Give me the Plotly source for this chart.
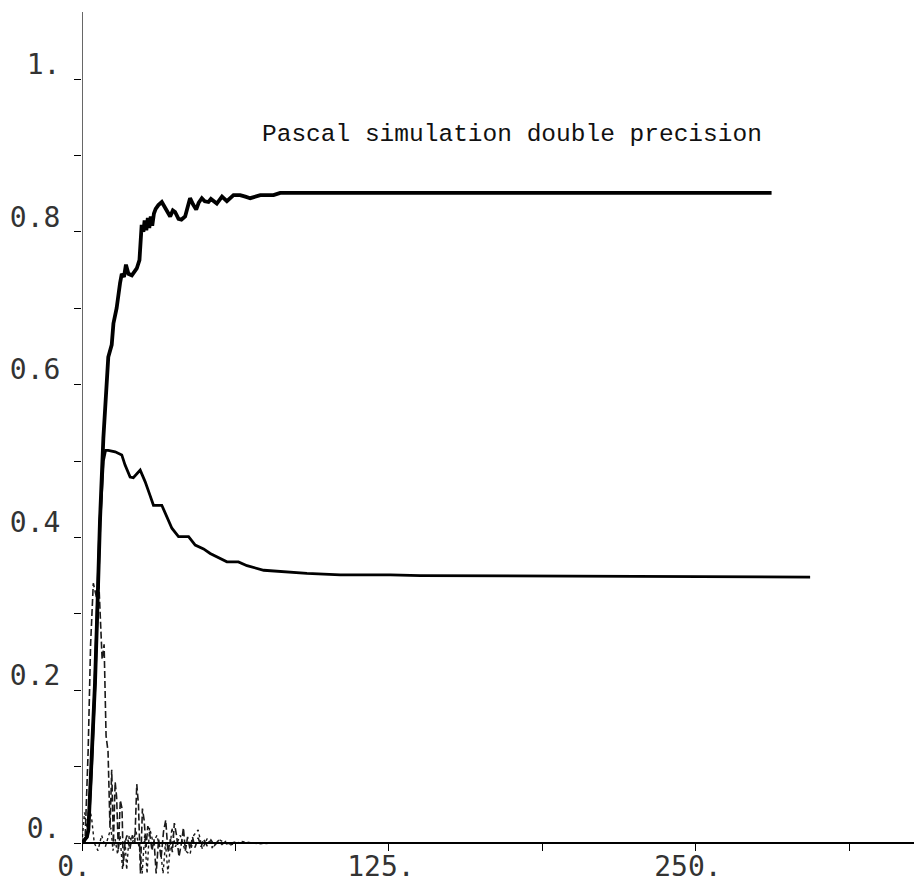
import plotly.graph_objects as go

# ---------------- data ----------------
# Upper (thick) curve
upper_x = [0, 2.0, 2.6, 3.9, 5.3, 6.2, 7.3, 8.7, 9.4, 10.2, 10.7, 12.1, 12.8, 14.1, 14.8,
           15.5, 16.2, 17.1, 17.9, 18.9, 20.3, 22.3, 23.4, 23.9, 24.3, 25.0, 25.5, 26.2,
           26.8, 27.4, 28.0, 28.6, 29.3, 30.0, 31.1, 32.5, 33.5, 34.5, 35.9, 37.0, 37.9,
           39.3, 40.5, 42.0, 43.2, 44.0, 45.2, 46.5, 47.5, 48.8, 50.0, 51.5, 52.5, 53.5,
           54.9, 57.0, 59.0, 61.7, 64.4, 66.5, 68.5, 72.6, 78.0, 80.7, 100, 150, 200, 250, 280.8]
upper_y = [0.0, 0.008, 0.017, 0.10, 0.21, 0.30, 0.42, 0.53, 0.565, 0.61, 0.636, 0.652, 0.68,
           0.70, 0.72, 0.733, 0.745, 0.741, 0.757, 0.745, 0.743, 0.752, 0.763, 0.794, 0.809,
           0.800, 0.815, 0.802, 0.818, 0.805, 0.820, 0.808, 0.824, 0.830, 0.835, 0.839, 0.833,
           0.829, 0.820, 0.828, 0.826, 0.817, 0.816, 0.820, 0.835, 0.844, 0.836, 0.829, 0.838,
           0.844, 0.840, 0.839, 0.843, 0.841, 0.837, 0.846, 0.840, 0.848, 0.848, 0.846, 0.844,
           0.848, 0.848, 0.851, 0.851, 0.851, 0.851, 0.851, 0.851]

# Second curve (peaks near 0.51, settles at 0.35)
second_x = [0, 2.0, 2.6, 3.9, 5.3, 6.2, 7.3, 8.7, 9.6, 10.7, 13.5, 16.2, 17.5, 19.6, 20.9,
            23.7, 25.7, 27.7, 29.1, 32.5, 34.5, 36.6, 39.3, 43.4, 46.1, 49.5, 52.2, 55.6,
            59.0, 63.7, 67.2, 74.0, 82.1, 91.6, 105.2, 125.6, 137.8, 200, 296.5]
second_y = [0.0, 0.008, 0.017, 0.10, 0.21, 0.30, 0.42, 0.50, 0.514, 0.514, 0.512, 0.508,
            0.495, 0.479, 0.478, 0.488, 0.473, 0.455, 0.442, 0.442, 0.427, 0.412, 0.401,
            0.401, 0.390, 0.385, 0.379, 0.373, 0.368, 0.368, 0.363, 0.357, 0.355, 0.353,
            0.351, 0.351, 0.350, 0.349, 0.348]

# Dashed oscillating curve (starts near 0.34, decays to 0)
dashed_x = [0, 1.2, 2.5, 3.5, 4.6, 5.3, 6.0, 6.8, 7.6, 8.2, 9.0, 9.8, 10.6, 11.4, 12.1,
            12.8, 13.5, 14.1, 14.8, 15.6, 16.3, 16.8, 17.5, 18.3, 19.5, 20.5, 21.5, 22.3,
            23.0, 23.8, 24.6, 25.3, 26.1, 26.8, 27.6, 28.5, 29.3, 30.2, 31.2, 32.2, 33.2,
            34.1, 35.0, 36.0, 36.8, 37.6, 38.5, 39.5, 40.5, 41.3, 42.1, 43.0, 44.0, 45.0,
            46.0, 47.3, 48.5, 49.5, 51.0, 52.5, 54.0, 55.5, 57.0, 58.5, 60.0, 62.0, 64.0,
            66.0, 68.0, 71.0, 74.0, 78.0, 82.0, 88.0, 95.0, 110.0, 140.0, 200.0, 260.0, 338.0]
dashed_y = [0.0, 0.0, 0.12, 0.26, 0.34, 0.33, 0.32, 0.345, 0.29, 0.24, 0.26, 0.14, 0.12,
            0.02, 0.096, 0.0, 0.08, 0.06, -0.01, 0.056, 0.045, -0.03, 0.0, 0.01, -0.008,
            0.01, 0.0, 0.077, 0.05, -0.04, 0.045, 0.03, -0.005, 0.022, 0.012, -0.01, 0.005,
            -0.04, 0.005, -0.02, 0.015, 0.03, -0.012, 0.005, -0.012, 0.026, 0.01, -0.018,
            0.0, 0.02, -0.01, 0.008, -0.008, 0.008, -0.006, 0.007, -0.005, 0.005, -0.004,
            0.004, -0.003, 0.003, -0.002, 0.002, -0.001, 0.001, 0.0, 0.0, 0.0, 0.0, 0.0,
            0.0, 0.0, 0.0, 0.0, 0.0, 0.0, 0.0, 0.0, 0.0]

# Dotted oscillating curve (small, mostly around zero)
dotted_x = [0, 1, 2, 3, 4, 5, 6.5, 8, 9.5, 11, 11.8, 12.6, 13.5, 14.5, 15.5, 16.5, 17.5,
            18.2, 19.2, 20.5, 22, 23.5, 24.5, 25.5, 26.5, 27.5, 29, 30.5, 32, 33, 34, 35,
            36.6, 38, 40, 42, 44, 45.5, 47.3, 49, 51, 53, 56, 60, 65, 72, 80, 95, 120, 338]
dotted_y = [0.0, 0.04, 0.02, 0.05, 0.03, 0.0, -0.01, 0.01, -0.005, 0.01, 0.02, -0.01,
            0.005, -0.015, 0.01, -0.035, 0.005, -0.035, 0.01, 0.0, 0.015, -0.01, -0.04,
            0.01, -0.04, 0.02, 0.0, 0.01, -0.01, -0.04, 0.0, -0.04, 0.02, -0.005, 0.01,
            -0.01, -0.015, 0.01, 0.017, -0.008, 0.006, -0.006, 0.004, -0.003, 0.002,
            -0.001, 0.0, 0.0, 0.0, 0.0]

# Axis ticks
x_tickvals = [0, 62.5, 125, 187.5, 250, 312.5]
x_ticktext = ["0.", "", "125.", "", "250.", ""]
y_tickvals = [0, 0.1, 0.2, 0.3, 0.4, 0.5, 0.6, 0.7, 0.8, 0.9, 1.0]
y_ticktext = ["0.", "", "0.2", "", "0.4", "", "0.6", "", "0.8", "", "1."]

annotation_text = "Pascal simulation double precision"

X_RANGE = [0, 338.8]
Y_RANGE = [-0.0589, 1.0877]

# ---------------- figure ----------------
fig = go.Figure()
fig.add_trace(go.Scatter(x=dotted_x, y=dotted_y, mode="lines",
                         line=dict(color="#1a1a1a", width=1.4, dash="dot")))
fig.add_trace(go.Scatter(x=dashed_x, y=dashed_y, mode="lines",
                         line=dict(color="#1a1a1a", width=1.6, dash="7px,3px")))
fig.add_trace(go.Scatter(x=second_x, y=second_y, mode="lines",
                         line=dict(color="black", width=2.8)))
fig.add_trace(go.Scatter(x=upper_x, y=upper_y, mode="lines",
                         line=dict(color="black", width=3.8)))

tickfont = dict(family="DejaVu Sans Mono", size=28, color="#333")

fig.update_layout(
    width=914, height=888,
    margin=dict(l=82, r=0, t=12, b=0, autoexpand=False),
    plot_bgcolor="white", paper_bgcolor="white",
    showlegend=False,
    xaxis=dict(range=X_RANGE, showgrid=False, zeroline=False, automargin=False,
               showline=True, linecolor="black", linewidth=1.5,
               anchor="free", position=(0 - Y_RANGE[0]) / (Y_RANGE[1] - Y_RANGE[0]),
               tickmode="array", tickvals=x_tickvals, ticktext=x_ticktext,
               ticks="outside", ticklen=7, tickwidth=1.2, tickcolor="black",
               tickfont=tickfont, ticklabelshift=-8, ticklabelstandoff=-8),
    yaxis=dict(range=Y_RANGE, showgrid=False, zeroline=False, showline=False,
               automargin=False,
               tickmode="array", tickvals=y_tickvals, ticktext=y_ticktext,
               ticks="outside", ticklen=7, tickwidth=1.2, tickcolor="black",
               tickfont=tickfont, ticklabelshift=-15, ticklabelstandoff=8),
    shapes=[dict(type="line", xref="x", yref="y", x0=0, x1=0, y0=-0.003, y1=Y_RANGE[1],
                 line=dict(color="black", width=1.2))],
    annotations=[
        dict(x=175.1, y=0.927, xref="x", yref="y", text=annotation_text, showarrow=False,
             font=dict(family="Liberation Mono", size=24.5, color="#111")),
    ],
)

fig.write_html("out.html")
